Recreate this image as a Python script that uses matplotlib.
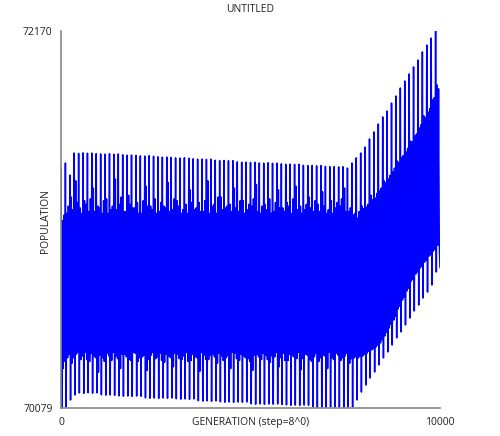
import numpy as np
import matplotlib
matplotlib.use("Agg")
from matplotlib import pyplot as plt

plt.rcParams['font.family'] = ['Open Sans', 'DejaVu Sans']

# one entry per oscillation cycle (86 cycles over 10000 generations)
# spike_hi / spike_lo : tall thin excursions
# band_hi / band_lo, mid_hi / mid_lo : the two swings of the dense core band
spike_hi = [71411, 71439, 71372, 71494, 71492, 71495, 71493, 71494, 71491, 71489,
            71488, 71490, 71487, 71489, 71484, 71482, 71483, 71481, 71478, 71477,
            71479, 71476, 71473, 71471, 71472, 71470, 71467, 71466, 71468, 71465,
            71462, 71460, 71461, 71459, 71460, 71454, 71452, 71453, 71451, 71452,
            71445, 71443, 71444, 71442, 71443, 71439, 71438, 71440, 71437, 71438,
            71434, 71432, 71433, 71431, 71432, 71426, 71424, 71425, 71423, 71424,
            71420, 71418, 71419, 71417, 71418, 71411, 71439, 71467, 71494, 71527,
            71572, 71611, 71655, 71694, 71727, 71771, 71810, 71854, 71893, 71932,
            71971, 72009, 72054, 72092, 72131, 72170]

spike_lo = [70082, 70087, 70126, 70154, 70165, 70163, 70166, 70164, 70165, 70155,
            70153, 70154, 70152, 70149, 70147, 70148, 70146, 70148, 70147, 70138,
            70136, 70137, 70135, 70137, 70136, 70137, 70133, 70131, 70132, 70130,
            70132, 70122, 70120, 70121, 70119, 70121, 70116, 70114, 70115, 70113,
            70115, 70114, 70115, 70105, 70103, 70104, 70102, 70104, 70103, 70104,
            70102, 70099, 70097, 70098, 70096, 70098, 70097, 70088, 70086, 70087,
            70085, 70087, 70086, 70087, 70085, 70086, 70087, 70126, 70170, 70209,
            70248, 70281, 70320, 70359, 70392, 70431, 70470, 70503, 70542, 70580,
            70619, 70652, 70691, 70724, 70763, 70835]

band_hi = [71120, 71160, 71250, 71340, 71190, 71230, 71170, 71300, 71200, 71160,
           71240, 71180, 71350, 71210, 71170, 71260, 71190, 71220, 71160, 71310,
           71200, 71240, 71170, 71200, 71330, 71180, 71230, 71160, 71210, 71290,
           71180, 71220, 71170, 71340, 71200, 71160, 71250, 71190, 71210, 71300,
           71170, 71230, 71180, 71200, 71320, 71160, 71210, 71240, 71170, 71290,
           71190, 71220, 71160, 71310, 71200, 71180, 71250, 71170, 71210, 71280,
           71160, 71230, 71190, 71200, 71300, 71170, 71151, 71134, 71200, 71195,
           71260, 71245, 71284, 71340, 71350, 71389, 71450, 71467, 71500, 71560,
           71588, 71633, 71700, 71721, 71788, 71871]

band_lo = [70300, 70360, 70330, 70380, 70350, 70390, 70340, 70370, 70280, 70360,
           70385, 70345, 70370, 70300, 70380, 70350, 70390, 70340, 70365, 70290,
           70375, 70355, 70385, 70335, 70370, 70310, 70380, 70350, 70390, 70345,
           70365, 70285, 70375, 70350, 70380, 70330, 70370, 70360, 70300, 70385,
           70345, 70370, 70355, 70290, 70380, 70350, 70375, 70335, 70365, 70310,
           70385, 70345, 70370, 70355, 70295, 70380, 70350, 70365, 70340, 70375,
           70300, 70360, 70385, 70345, 70370, 70330, 70359, 70359, 70370, 70386,
           70403, 70420, 70442, 70481, 70525, 70569, 70630, 70680, 70730, 70785,
           70824, 70857, 70890, 70923, 70951, 70984]

mid_hi = [71150, 71200, 71180, 71220, 71160, 71210, 71240, 71170, 71190, 71230,
          71160, 71200, 71180, 71250, 71170, 71210, 71190, 71160, 71230, 71200,
          71180, 71160, 71220, 71190, 71170, 71240, 71200, 71180, 71160, 71220,
          71190, 71170, 71230, 71160, 71210, 71250, 71180, 71200, 71170, 71190,
          71230, 71160, 71210, 71240, 71170, 71200, 71180, 71160, 71220, 71190,
          71170, 71200, 71240, 71180, 71160, 71210, 71190, 71230, 71170, 71200,
          71180, 71160, 71220, 71240, 71170, 71190, 71160, 71170, 71185, 71210,
          71235, 71270, 71300, 71330, 71370, 71410, 71440, 71480, 71520, 71555,
          71600, 71650, 71690, 71740, 71800, 71850]

mid_lo = [70340, 70380, 70360, 70390, 70370, 70350, 70385, 70360, 70375, 70340,
          70370, 70390, 70355, 70380, 70365, 70345, 70385, 70360, 70375, 70350,
          70390, 70365, 70345, 70380, 70360, 70385, 70355, 70370, 70340, 70380,
          70360, 70390, 70350, 70375, 70365, 70385, 70345, 70370, 70390, 70355,
          70380, 70360, 70340, 70375, 70365, 70385, 70350, 70370, 70390, 70360,
          70345, 70380, 70365, 70390, 70355, 70375, 70340, 70385, 70360, 70370,
          70390, 70350, 70375, 70360, 70385, 70355, 70365, 70370, 70380, 70395,
          70410, 70430, 70460, 70500, 70545, 70590, 70645, 70695, 70745, 70795,
          70835, 70865, 70900, 70930, 70960, 70990]

last_value = 70860

y_min, y_max = 70079, 72170
x_min, x_max = 0, 10000

# interleave the six values of every cycle into one trace
population = np.column_stack([spike_hi, spike_lo, band_hi, band_lo,
                              mid_hi, mid_lo]).ravel()
population = np.append(population, last_value)
generation = np.linspace(x_min, x_max, len(population))

fig = plt.figure(figsize=(5.0, 4.36), dpi=100)
ax = fig.add_axes([0.122, 0.0631, 0.758, 0.8658])

ax.plot(generation, population, color='#0000ff', linewidth=1.1)

ax.set_xlim(x_min, x_max)
ax.set_ylim(y_min, y_max)
ax.set_xticks([x_min, x_max])
ax.set_xticklabels([str(x_min), str(x_max)])
ax.set_yticks([y_min, y_max])
ax.set_yticklabels([str(y_min), str(y_max)])
ax.tick_params(length=0, labelsize=7.5, colors='#222222', pad=6)

for side in ('top', 'right'):
    ax.spines[side].set_visible(False)
for side in ('left', 'bottom'):
    ax.spines[side].set_color('#888888')
    ax.spines[side].set_linewidth(1.2)

ax.set_xlabel('GENERATION (step=8^0)', fontsize=7.5, color='#222222', va='center')
ax.xaxis.set_label_coords(0.5, -0.0358)
ax.set_ylabel('POPULATION', fontsize=7.5, color='#222222', va='center')
ax.yaxis.set_label_coords(-0.0404, 0.497)
ax.set_title('UNTITLED', fontsize=7.5, color='#222222', y=1.035, va='center')

fig.savefig('out.png', dpi=100)
